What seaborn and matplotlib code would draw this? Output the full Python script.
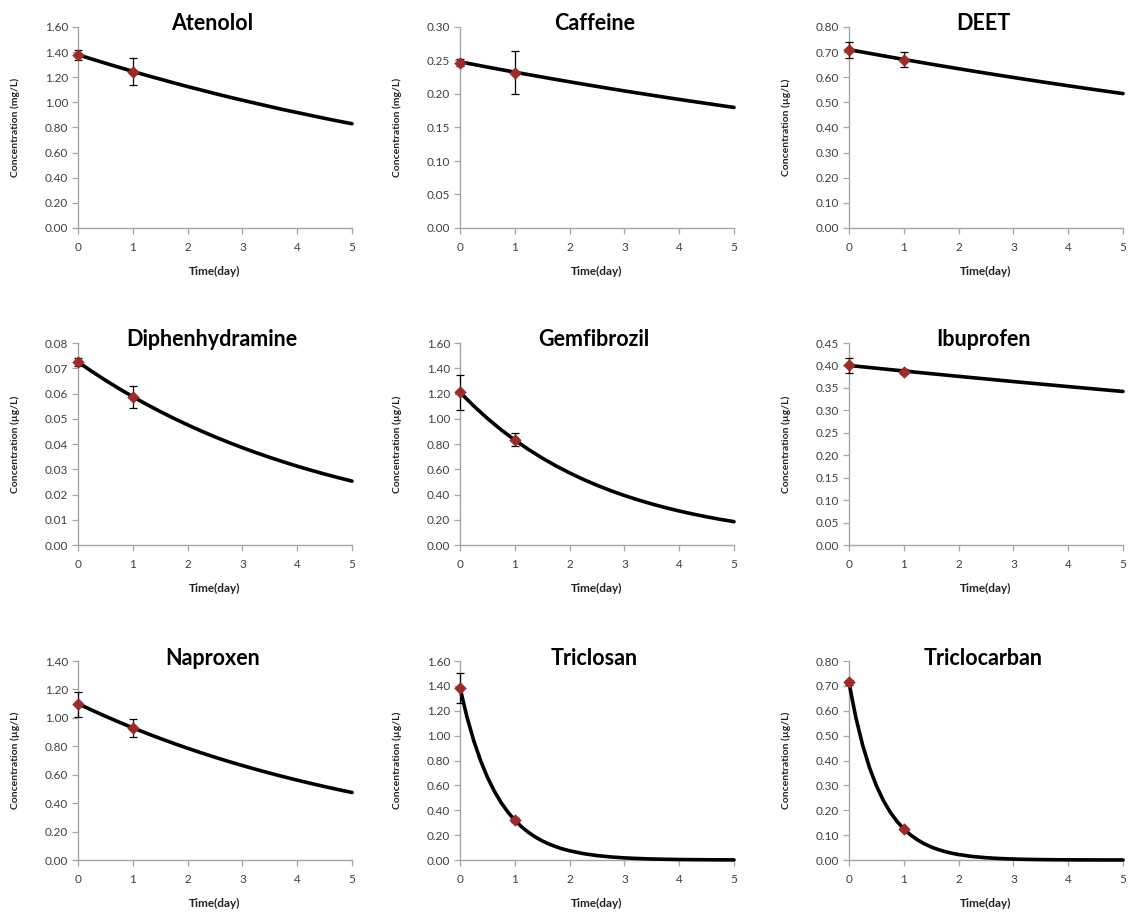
import numpy as np
import pandas as pd
import matplotlib
matplotlib.use("Agg")
import matplotlib.pyplot as plt
import seaborn as sns

# ---------------- data ----------------
compounds = ["Atenolol", "Caffeine", "DEET", "Diphenhydramine", "Gemfibrozil",
             "Ibuprofen", "Naproxen", "Triclosan", "Triclocarban"]
units = ["mg/L", "mg/L", "\u00b5g/L", "\u00b5g/L", "\u00b5g/L",
         "\u00b5g/L", "\u00b5g/L", "\u00b5g/L", "\u00b5g/L"]
y_max = [1.60, 0.30, 0.80, 0.08, 1.60, 0.45, 1.40, 1.60, 0.80]
y_step = [0.20, 0.05, 0.10, 0.01, 0.20, 0.05, 0.20, 0.20, 0.10]

obs_days = [0, 1]
obs_day0 = [1.375, 0.247, 0.708, 0.0725, 1.21, 0.400, 1.095, 1.386, 0.715]
obs_day1 = [1.245, 0.232, 0.670, 0.0586, 0.835, 0.386, 0.930, 0.321, 0.125]
err_day0 = [0.040, 0.005, 0.033, 0.0017, 0.137, 0.017, 0.087, 0.120, 0.010]
err_day1 = [0.108, 0.032, 0.030, 0.0044, 0.050, 0.006, 0.063, 0.015, 0.005]

curve_days = [0.0, 0.25, 0.5, 0.75, 1.0, 1.25, 1.5, 1.75, 2.0, 2.25, 2.5,
              2.75, 3.0, 3.25, 3.5, 3.75, 4.0, 4.25, 4.5, 4.75, 5.0]
curve_days_fine = [0.0, 0.125, 0.25, 0.375, 0.5, 0.625, 0.75, 0.875, 1.0, 1.125, 1.25,
                   1.375, 1.5, 1.625, 1.75, 1.875, 2.0, 2.25, 2.5, 2.75, 3.0, 3.25,
                   3.5, 3.75, 4.0, 4.25, 4.5, 4.75, 5.0]
curve_atenolol = [1.380, 1.345, 1.312, 1.279, 1.247, 1.215, 1.185, 1.155, 1.126, 1.098, 1.070,
                  1.043, 1.017, 0.992, 0.967, 0.942, 0.919, 0.896, 0.873, 0.851, 0.830]
curve_caffeine = [0.2480, 0.2441, 0.2402, 0.2364, 0.2326, 0.2289, 0.2253, 0.2217, 0.2182, 0.2147, 0.2113,
                  0.2079, 0.2046, 0.2014, 0.1982, 0.1950, 0.1919, 0.1889, 0.1859, 0.1829, 0.1800]
curve_deet = [0.7100, 0.7000, 0.6902, 0.6805, 0.6709, 0.6615, 0.6522, 0.6430, 0.6340, 0.6251, 0.6163,
              0.6077, 0.5991, 0.5907, 0.5824, 0.5742, 0.5661, 0.5582, 0.5503, 0.5426, 0.5350]
curve_diphenhydramine = [0.07250, 0.06878, 0.06525, 0.06191, 0.05873, 0.05572, 0.05286, 0.05015,
                         0.04758, 0.04514, 0.04282, 0.04063, 0.03854, 0.03657, 0.03469, 0.03291,
                         0.03122, 0.02962, 0.02810, 0.02666, 0.02529]
curve_gemfibrozil = [1.2100, 1.1016, 1.0028, 0.9129, 0.8311, 0.7566, 0.6888, 0.6271, 0.5709, 0.5197, 0.4731,
                     0.4307, 0.3921, 0.3570, 0.3250, 0.2958, 0.2693, 0.2452, 0.2232, 0.2032, 0.1850]
curve_ibuprofen = [0.4000, 0.3969, 0.3938, 0.3907, 0.3877, 0.3846, 0.3816, 0.3787, 0.3757, 0.3728, 0.3699,
                   0.3670, 0.3641, 0.3613, 0.3585, 0.3557, 0.3529, 0.3502, 0.3474, 0.3447, 0.3420]
curve_naproxen = [1.1000, 1.0548, 1.0114, 0.9698, 0.9299, 0.8917, 0.8550, 0.8198, 0.7861, 0.7538, 0.7228,
                  0.6930, 0.6645, 0.6372, 0.6110, 0.5859, 0.5618, 0.5387, 0.5165, 0.4953, 0.4750]
curve_triclosan = [1.3850, 1.1532, 0.9603, 0.7996, 0.6658, 0.5544, 0.4616, 0.3844, 0.3200, 0.2665,
                   0.2219, 0.1848, 0.1538, 0.1281, 0.1067, 0.0888, 0.0740, 0.0513, 0.0356, 0.0247,
                   0.0171, 0.0119, 0.0082, 0.0057, 0.0040, 0.0027, 0.0019, 0.0013, 0.0009]
curve_triclocarban = [0.7120, 0.5728, 0.4609, 0.3708, 0.2983, 0.2400, 0.1931, 0.1553, 0.1250, 0.1006,
                      0.0809, 0.0651, 0.0524, 0.0421, 0.0339, 0.0273, 0.0219, 0.0142, 0.0092, 0.0060,
                      0.0039, 0.0025, 0.0016, 0.0010, 0.0007, 0.0004, 0.0003, 0.0002, 0.0001]
curves = [curve_atenolol, curve_caffeine, curve_deet, curve_diphenhydramine, curve_gemfibrozil,
          curve_ibuprofen, curve_naproxen, curve_triclosan, curve_triclocarban]
curve_x = [curve_days] * 7 + [curve_days_fine, curve_days_fine]

x_ticks = [0, 1, 2, 3, 4, 5]

# ---------------- style ----------------
sns.set_style("ticks")
plt.rcParams['font.family'] = ['Lato', 'DejaVu Sans']

W, H = 1128, 913
fig = plt.figure(figsize=(W / 100, H / 100), dpi=100)
fig.patch.set_facecolor("white")

col_left = [78, 460, 849]
row_top_bottom = [(27, 228), (343, 545), (661, 860)]
ax_w = 274

marker_color = "#9e2a2a"
spine_color = "#a6a6a6"
tick_label_color = "#3f3f3f"

for i, name in enumerate(compounds):
    r, c = divmod(i, 3)
    top, bottom = row_top_bottom[r]
    left = col_left[c]
    ax = fig.add_axes([left / W, 1 - bottom / H, ax_w / W, (bottom - top) / H])

    cdf = pd.DataFrame({"day": curve_x[i], "conc": curves[i]})
    odf = pd.DataFrame({"day": obs_days, "conc": [obs_day0[i], obs_day1[i]]})
    errs = [err_day0[i], err_day1[i]]

    sns.lineplot(data=cdf, x="day", y="conc", ax=ax, color="black", lw=2.6,
                 clip_on=False, zorder=3)
    ax.errorbar(odf["day"], odf["conc"], yerr=errs, fmt="none", ecolor="black",
                elinewidth=0.9, capsize=3.2, capthick=0.9, zorder=4, clip_on=False)
    sns.scatterplot(data=odf, x="day", y="conc", ax=ax, marker="D", s=34,
                    color=marker_color, edgecolor=marker_color, linewidth=0.5,
                    zorder=5, clip_on=False)

    ax.set_xlim(0, 5)
    ax.set_ylim(0, y_max[i])
    ax.set_xticks(x_ticks)
    nticks = int(round(y_max[i] / y_step[i])) + 1
    yt = [k * y_step[i] for k in range(nticks)]
    ax.set_yticks(yt)
    ax.set_yticklabels([f"{v:.2f}" for v in yt])

    for s in ["top", "right"]:
        ax.spines[s].set_visible(False)
    for s in ["left", "bottom"]:
        ax.spines[s].set_color(spine_color)
        ax.spines[s].set_linewidth(1.0)
    ax.tick_params(axis="both", direction="out", length=4, width=0.9,
                   color=spine_color, labelsize=8.5, labelcolor=tick_label_color, pad=3)
    ax.tick_params(axis="x", pad=6)

    ax.set_xlabel("Time(day)", fontsize=8.5, fontweight="bold", color="#222222")
    ax.set_ylabel(f"Concentration ({units[i]})", fontsize=7.5, fontweight="bold",
                  color="#222222")
    ax.xaxis.set_label_coords(0.5, -38 / (bottom - top))
    ax.yaxis.set_label_coords(-58 / ax_w, 0.5)

    ax.text(0.49, 1.015, name, transform=ax.transAxes, ha="center", va="center",
            fontsize=15.5, fontweight="bold", color="black")
    ax.set_facecolor("white")
    ax.grid(False)

fig.savefig("out.png", dpi=100, facecolor="white")
